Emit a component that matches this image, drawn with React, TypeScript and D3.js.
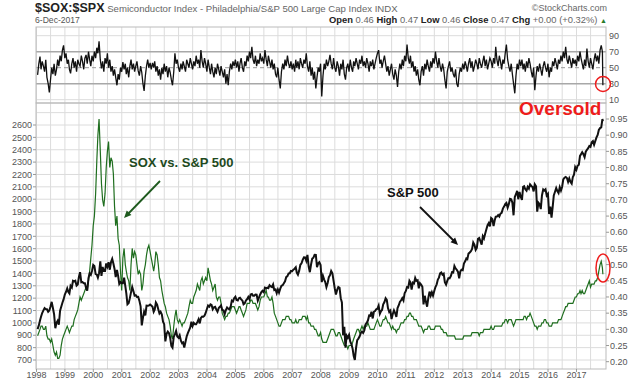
import React from "react";
import * as d3 from "d3";

// ---- DATA (semi-monthly: 15th and month end, Jan 1998 .. Nov 2017, then 6-Dec-2017) ----
const spx: number[] = [
  950,980,1020,1049,1080,1101,1120,1111,1110,1090,1100,1133,1170,1120,1070,957,1000,1017,985,1098,1130,1163,1190,1229,
  1250,1279,1250,1238,1300,1286,1340,1335,1340,1301,1310,1372,1410,1328,1330,1320,1320,1283,1260,1362,1400,1388,1420,1469,
  1460,1394,1390,1366,1400,1498,1380,1452,1420,1420,1480,1454,1490,1430,1490,1517,1480,1436,1370,1429,1380,1315,1330,1320,
  1320,1366,1300,1240,1150,1160,1200,1249,1290,1256,1220,1224,1210,1211,1180,1134,980,1041,1090,1060,1140,1139,1140,1148,
  1140,1130,1090,1107,1165,1147,1110,1076,1090,1067,1010,990,850,912,930,916,880,815,800,886,910,936,890,880,
  900,856,835,841,800,848,890,917,940,964,1010,975,1000,990,990,1008,1030,996,1040,1051,1050,1058,1080,1112,
  1140,1131,1150,1145,1110,1126,1130,1107,1090,1121,1130,1141,1105,1102,1070,1104,1125,1115,1110,1130,1180,1174,1200,1212,
  1185,1181,1200,1204,1190,1181,1150,1157,1180,1192,1210,1191,1230,1234,1220,1220,1230,1229,1180,1207,1230,1249,1260,1248,
  1285,1280,1285,1281,1305,1295,1290,1311,1265,1270,1240,1270,1245,1277,1300,1304,1320,1336,1370,1378,1400,1401,1420,1418,
  1430,1438,1450,1407,1390,1421,1470,1482,1510,1531,1530,1503,1550,1455,1410,1474,1520,1527,1550,1549,1450,1481,1490,1468,
  1330,1379,1350,1331,1290,1323,1370,1386,1420,1400,1340,1280,1230,1267,1290,1283,1200,1165,900,969,800,896,880,903,
  850,826,790,735,700,798,860,873,890,919,930,919,940,987,1000,1021,1060,1057,1090,1036,1090,1096,1110,1115,
  1140,1074,1095,1104,1150,1169,1200,1187,1120,1089,1100,1031,1070,1102,1080,1049,1120,1141,1170,1183,1200,1181,1240,1258,
  1290,1286,1340,1327,1270,1326,1320,1364,1340,1345,1280,1321,1310,1292,1150,1219,1170,1131,1200,1253,1220,1247,1220,1258,
  1290,1312,1350,1366,1400,1408,1390,1398,1330,1310,1340,1362,1360,1379,1410,1407,1460,1441,1430,1412,1360,1416,1430,1426,
  1480,1498,1520,1515,1560,1569,1580,1598,1650,1631,1590,1606,1680,1686,1660,1633,1700,1682,1720,1757,1790,1806,1780,1848,
  1840,1783,1830,1859,1860,1872,1860,1884,1890,1924,1940,1960,1970,1931,1960,2003,2000,1972,1870,2018,2040,2068,2000,2059,
  2020,1995,2100,2105,2080,2068,2100,2086,2120,2107,2100,2063,2120,2104,1900,1972,1960,1920,2030,2079,2070,2080,2030,2044,
  1880,1940,1850,1932,2030,2060,2090,2065,2050,2097,2070,2099,2160,2174,2180,2171,2140,2168,2140,2126,2180,2199,2260,2239,
  2270,2279,2350,2364,2380,2363,2340,2384,2400,2412,2430,2423,2460,2470,2440,2472,2500,2519,2560,2575,2580,2648,2630,
];

const soxSpx: number[] = [
  0.28,0.29,0.30,0.31,0.31,0.30,0.30,0.31,0.28,0.27,0.27,0.26,0.27,0.25,0.23,0.22,0.23,0.21,0.21,0.22,0.25,0.27,0.28,0.29,
  0.30,0.31,0.30,0.29,0.30,0.31,0.31,0.33,0.34,0.35,0.36,0.38,0.40,0.39,0.40,0.41,0.42,0.43,0.42,0.45,0.48,0.52,0.56,0.62,
  0.65,0.72,0.82,0.90,0.95,0.85,0.75,0.70,0.68,0.72,0.80,0.85,0.88,0.80,0.83,0.82,0.78,0.68,0.62,0.65,0.58,0.56,0.48,0.42,
  0.52,0.55,0.50,0.48,0.46,0.45,0.42,0.50,0.55,0.52,0.54,0.53,0.50,0.47,0.48,0.47,0.42,0.44,0.48,0.50,0.53,0.55,0.56,0.54,
  0.52,0.50,0.48,0.50,0.54,0.53,0.50,0.46,0.45,0.42,0.40,0.38,0.37,0.35,0.34,0.33,0.31,0.28,0.27,0.31,0.34,0.36,0.33,0.32,
  0.33,0.32,0.31,0.32,0.32,0.33,0.34,0.35,0.37,0.39,0.38,0.38,0.40,0.41,0.42,0.44,0.43,0.42,0.45,0.46,0.44,0.45,0.46,0.45,
  0.49,0.47,0.45,0.44,0.42,0.43,0.44,0.40,0.39,0.40,0.40,0.38,0.35,0.34,0.33,0.34,0.34,0.35,0.35,0.36,0.37,0.37,0.37,0.36,
  0.35,0.36,0.37,0.37,0.36,0.35,0.34,0.35,0.36,0.38,0.38,0.38,0.39,0.39,0.38,0.38,0.38,0.37,0.36,0.37,0.39,0.40,0.40,0.40,
  0.41,0.42,0.40,0.40,0.39,0.39,0.40,0.38,0.35,0.34,0.33,0.32,0.31,0.31,0.32,0.33,0.33,0.33,0.34,0.34,0.34,0.33,0.33,0.32,
  0.32,0.32,0.33,0.32,0.32,0.33,0.33,0.33,0.34,0.34,0.34,0.33,0.34,0.32,0.32,0.31,0.31,0.31,0.30,0.30,0.29,0.28,0.28,0.29,
  0.27,0.26,0.26,0.26,0.26,0.27,0.28,0.29,0.30,0.30,0.30,0.29,0.28,0.28,0.29,0.29,0.28,0.27,0.26,0.25,0.25,0.25,0.24,0.25,
  0.25,0.25,0.26,0.27,0.28,0.29,0.30,0.30,0.29,0.30,0.31,0.30,0.31,0.31,0.31,0.32,0.31,0.30,0.30,0.30,0.30,0.31,0.32,0.33,
  0.32,0.31,0.31,0.32,0.33,0.33,0.34,0.33,0.32,0.32,0.31,0.30,0.31,0.30,0.30,0.29,0.30,0.30,0.31,0.32,0.32,0.32,0.33,0.33,
  0.34,0.34,0.35,0.35,0.34,0.34,0.33,0.33,0.33,0.32,0.31,0.31,0.31,0.30,0.29,0.30,0.30,0.30,0.31,0.31,0.30,0.30,0.30,0.30,
  0.31,0.31,0.31,0.31,0.31,0.30,0.30,0.29,0.29,0.29,0.28,0.28,0.28,0.28,0.28,0.28,0.28,0.27,0.27,0.27,0.27,0.27,0.27,0.27,
  0.28,0.28,0.28,0.28,0.28,0.28,0.28,0.29,0.29,0.29,0.29,0.29,0.29,0.28,0.29,0.29,0.29,0.30,0.30,0.30,0.30,0.30,0.30,0.31,
  0.30,0.30,0.31,0.31,0.31,0.31,0.31,0.31,0.31,0.32,0.32,0.33,0.33,0.32,0.33,0.33,0.33,0.32,0.31,0.32,0.33,0.33,0.33,0.33,
  0.33,0.33,0.33,0.34,0.34,0.33,0.34,0.34,0.35,0.34,0.33,0.32,0.31,0.31,0.30,0.31,0.31,0.31,0.32,0.32,0.33,0.33,0.32,0.32,
  0.31,0.31,0.31,0.32,0.32,0.32,0.32,0.32,0.33,0.33,0.33,0.34,0.35,0.36,0.37,0.37,0.38,0.38,0.38,0.38,0.38,0.39,0.40,0.40,
  0.41,0.41,0.42,0.41,0.42,0.41,0.41,0.42,0.43,0.44,0.45,0.43,0.44,0.44,0.44,0.45,0.45,0.46,0.48,0.50,0.51,0.49,0.47,
];

const rsi: number[] = [
  41,55,64,48,58,52,45,60,38,30,19,35,50,42,55,40,48,60,52,65,58,72,78,62,
  68,55,60,48,43,55,62,50,58,45,60,55,52,65,58,48,62,66,55,70,60,52,65,58,
  70,62,75,68,83,60,49,58,45,62,55,68,50,60,45,52,40,48,38,28,42,35,50,45,
  57,48,55,42,50,38,52,60,48,55,45,52,58,46,40,52,44,30,21,40,52,60,50,56,
  48,56,50,58,45,52,40,48,35,50,42,55,45,52,38,50,44,35,28,45,68,55,60,50,
  45,55,48,58,52,45,60,55,50,62,55,48,58,52,65,55,60,50,72,58,50,62,55,45,
  60,50,42,55,45,38,50,42,55,48,40,52,45,38,48,30,42,28,45,55,48,58,52,60,
  50,58,45,55,62,50,45,58,52,65,58,70,62,76,60,55,65,52,60,55,68,58,62,55,
  72,60,52,65,58,50,60,48,55,42,38,50,35,24,45,55,48,60,52,65,55,50,58,48,
  55,45,60,50,58,48,62,55,50,60,55,68,52,45,58,40,50,35,45,24,38,50,45,55,
  14,40,55,48,60,52,58,66,55,48,62,50,45,58,52,40,55,48,60,42,35,50,55,45,
  60,50,45,58,52,62,55,48,60,55,65,52,58,50,62,55,45,58,52,60,48,55,62,68,
  72,55,60,50,58,65,55,45,52,40,48,55,42,35,48,40,26,45,55,48,60,52,65,58,
  79,62,55,65,50,58,45,52,40,48,35,28,45,52,40,55,48,60,52,45,58,50,62,55,
  70,58,50,62,52,45,55,48,35,24,45,52,58,45,50,42,38,48,30,26,42,50,45,55,
  48,58,52,45,55,62,50,58,45,52,60,55,48,62,55,50,58,65,52,60,48,55,62,58,
  50,62,55,76,60,52,65,58,48,60,55,68,79,60,52,45,55,42,30,18,40,55,48,60,
  52,60,48,55,45,58,50,62,55,45,38,50,22,40,52,45,55,48,40,52,58,50,45,55,
  38,50,45,58,52,62,55,48,60,55,65,58,70,62,76,60,55,65,58,50,62,55,60,52,
  65,58,70,62,55,48,60,52,74,58,50,62,55,48,60,68,58,65,55,72,78,70,28,
];

const leftTicks = [700,800,900,1000,1100,1200,1300,1400,1500,1600,1700,1800,1900,2000,2100,2200,2300,2400,2500,2600];
const rightTicks = [0.20,0.25,0.30,0.35,0.40,0.45,0.50,0.55,0.60,0.65,0.70,0.75,0.80,0.85,0.90,0.95];
const rsiTicks = [90,70,50,30,10];
const yearLabels = ["1998","1999","2000","2001","2002","2003","2004","2005","2006","2007","2008","2009","2010","2011","2012","2013","2014","2015","2016","2017"];

// dates: 15th and month-end of each month Jan 1998..Nov 2017, then 6-Dec-2017
const dates: Date[] = (() => {
  const out: Date[] = [];
  for (let i = 0; i < 478; i++) {
    const y = 1998 + Math.floor(i / 24);
    const m = Math.floor((i % 24) / 2);
    out.push(i % 2 === 0 ? new Date(y, m, 15) : new Date(y, m + 1, 0));
  }
  out.push(new Date(2017, 11, 6));
  return out;
})();

const PL = 36, PR = 606;
const RSI_TOP = 27, RSI_BOT = 103;
const MAIN_TOP = 103, MAIN_BOT = 369;

function arrowHead(x1: number, y1: number, x2: number, y2: number, size = 8) {
  const a = Math.atan2(y2 - y1, x2 - x1);
  const p1 = [x2 - size * Math.cos(a - 0.42), y2 - size * Math.sin(a - 0.42)];
  const p2 = [x2 - size * Math.cos(a + 0.42), y2 - size * Math.sin(a + 0.42)];
  return `${x2},${y2} ${p1[0]},${p1[1]} ${p2[0]},${p2[1]}`;
}

export default function App() {
  const x = d3.scaleTime().domain([new Date(1998, 0, 1), new Date(2018, 0, 1)]).range([36.5, 604.9]);
  const yL = d3.scaleLinear().domain([700, 2600]).range([360, 125]);
  const yR = d3.scaleLinear().domain([0.2, 0.95]).range([361.7, 119]);
  const yRsi = d3.scaleLinear().domain([10, 90]).range([99.7, 35.7]);

  const spxLine = d3.line<number>().x((_, i) => x(dates[i])).y((d) => yL(d))(spx) || "";
  const ratioLine = d3.line<number>().x((_, i) => x(dates[i])).y((d) => yR(d))(soxSpx) || "";
  const rsiLine = d3.line<number>().x((_, i) => x(dates[i])).y((d) => yRsi(d))(rsi) || "";

  const halfYears: Date[] = [];
  for (let y = 1998; y <= 2017; y++) {
    halfYears.push(new Date(y, 0, 1));
    halfYears.push(new Date(y, 6, 1));
  }
  const grid = "#dcdcdc";
  const font = "'Liberation Sans', Arial, sans-serif";
  const lbl = "#555";

  return (
    <svg width={640} height={382} style={{ position: "absolute", left: 0, top: 0, background: "#fff" }} fontFamily={font}>
      <rect x={0} y={0} width={640} height={382} fill="#fff" />
      {/* header */}
      <text x={35} y={12} fontSize={12.5} fontWeight="bold" fill="#222">$SOX:$SPX
        <tspan fontWeight="normal" fontSize={9.6} fill="#666"> Semiconductor Index - Philadelphia/S&amp;P 500 Large Cap Index  INDX</tspan>
      </text>
      <text x={35} y={22.5} fontSize={8.6} fill="#555">6-Dec-2017</text>
      <text x={607} y={11} fontSize={9} fill="#666" textAnchor="end">©StockCharts.com</text>
      <text x={607} y={22.5} fontSize={9.4} fill="#666" textAnchor="end">
        <tspan fontWeight="bold" fill="#222">Open</tspan> 0.46 <tspan fontWeight="bold" fill="#222">High</tspan> 0.47 <tspan fontWeight="bold" fill="#222">Low</tspan> 0.46 <tspan fontWeight="bold" fill="#222">Close</tspan> 0.47 <tspan fontWeight="bold" fill="#222">Chg</tspan> +0.00 (+0.32%) <tspan fill="#2a7a2a" fontSize={7}>▲</tspan>
      </text>

      {/* gridlines */}
      {halfYears.map((d, i) => (
        <g key={"vg" + i}>
          <line x1={x(d)} x2={x(d)} y1={RSI_TOP} y2={RSI_BOT} stroke={grid} strokeWidth={1} />
          <line x1={x(d)} x2={x(d)} y1={MAIN_TOP} y2={MAIN_BOT} stroke={grid} strokeWidth={1} />
        </g>
      ))}
      {[...leftTicks, 2700].map((t) => (
        <line key={"hg" + t} x1={PL} x2={PR} y1={yL(t)} y2={yL(t)} stroke={grid} strokeWidth={1} />
      ))}
      {[90, 10].map((t) => (
        <line key={"rg" + t} x1={PL} x2={PR} y1={yRsi(t)} y2={yRsi(t)} stroke={grid} strokeWidth={1} />
      ))}
      {[70, 30].map((t) => (
        <line key={"rl" + t} x1={PL} x2={PR} y1={yRsi(t)} y2={yRsi(t)} stroke="#a8a8a8" strokeWidth={1.6} />
      ))}
      <line x1={PL} x2={PR} y1={yRsi(50)} y2={yRsi(50)} stroke="#999" strokeWidth={1} strokeDasharray="4,3" />

      {/* panel borders */}
      <rect x={PL} y={RSI_TOP} width={PR - PL} height={RSI_BOT - RSI_TOP} fill="none" stroke="#bbb" strokeWidth={1} />
      <rect x={PL} y={MAIN_TOP} width={PR - PL} height={MAIN_BOT - MAIN_TOP} fill="none" stroke="#bbb" strokeWidth={1} />

      {/* series */}
      <path d={rsiLine} fill="none" stroke="#111" strokeWidth={1.3} />
      <path d={ratioLine} fill="none" stroke="#1f6e1f" strokeWidth={1.2} />
      <path d={spxLine} fill="none" stroke="#111" strokeWidth={2} />

      {/* axes labels */}
      {rsiTicks.map((t) => (
        <text key={"rt" + t} x={609} y={yRsi(t) + 3.2} fontSize={9} fill={lbl}>{t}</text>
      ))}
      {leftTicks.map((t) => (
        <g key={"lt" + t}>
          <text x={32} y={yL(t) + 3.2} fontSize={9} fill={lbl} textAnchor="end">{t}</text>
          <line x1={33} x2={36} y1={yL(t)} y2={yL(t)} stroke="#999" />
        </g>
      ))}
      {rightTicks.map((t) => (
        <g key={"rtk" + t}>
          <line x1={606} x2={609} y1={yR(t)} y2={yR(t)} stroke="#999" />
          <text x={610} y={yR(t) + 3.2} fontSize={9} fill={lbl}>{t.toFixed(2)}</text>
        </g>
      ))}
      {yearLabels.map((s) => (
        <g key={"yl" + s}>
          <line x1={x(new Date(+s, 0, 1))} x2={x(new Date(+s, 0, 1))} y1={MAIN_BOT} y2={MAIN_BOT + 3} stroke="#999" />
          <text x={x(new Date(+s, 0, 1))} y={378} fontSize={9} fill={lbl} textAnchor="middle">{s}</text>
        </g>
      ))}

      {/* annotations */}
      <text x={129} y={167} fontSize={13} fontWeight="bold" fill="#1e4a1e">SOX vs. S&amp;P 500</text>
      <line x1={160} y1={181} x2={127} y2={215} stroke="#1e5a1e" strokeWidth={1.8} />
      <polygon points={arrowHead(160, 181, 124, 218)} fill="#1e5a1e" />
      <text x={387} y={197} fontSize={13} fontWeight="bold" fill="#111">S&amp;P 500</text>
      <line x1={420} y1={207} x2={455} y2={242} stroke="#111" strokeWidth={1.8} />
      <polygon points={arrowHead(420, 207, 458, 245)} fill="#111" />
      <text x={519} y={115} fontSize={19} fontWeight="bold" fill="#ee1c1c">Oversold</text>
      <circle cx={603} cy={84} r={7.5} fill="none" stroke="#ee1c1c" strokeWidth={1.5} />
      <ellipse cx={603} cy={268} rx={7} ry={14} fill="none" stroke="#ee1c1c" strokeWidth={1.5} />
    </svg>
  );
}
